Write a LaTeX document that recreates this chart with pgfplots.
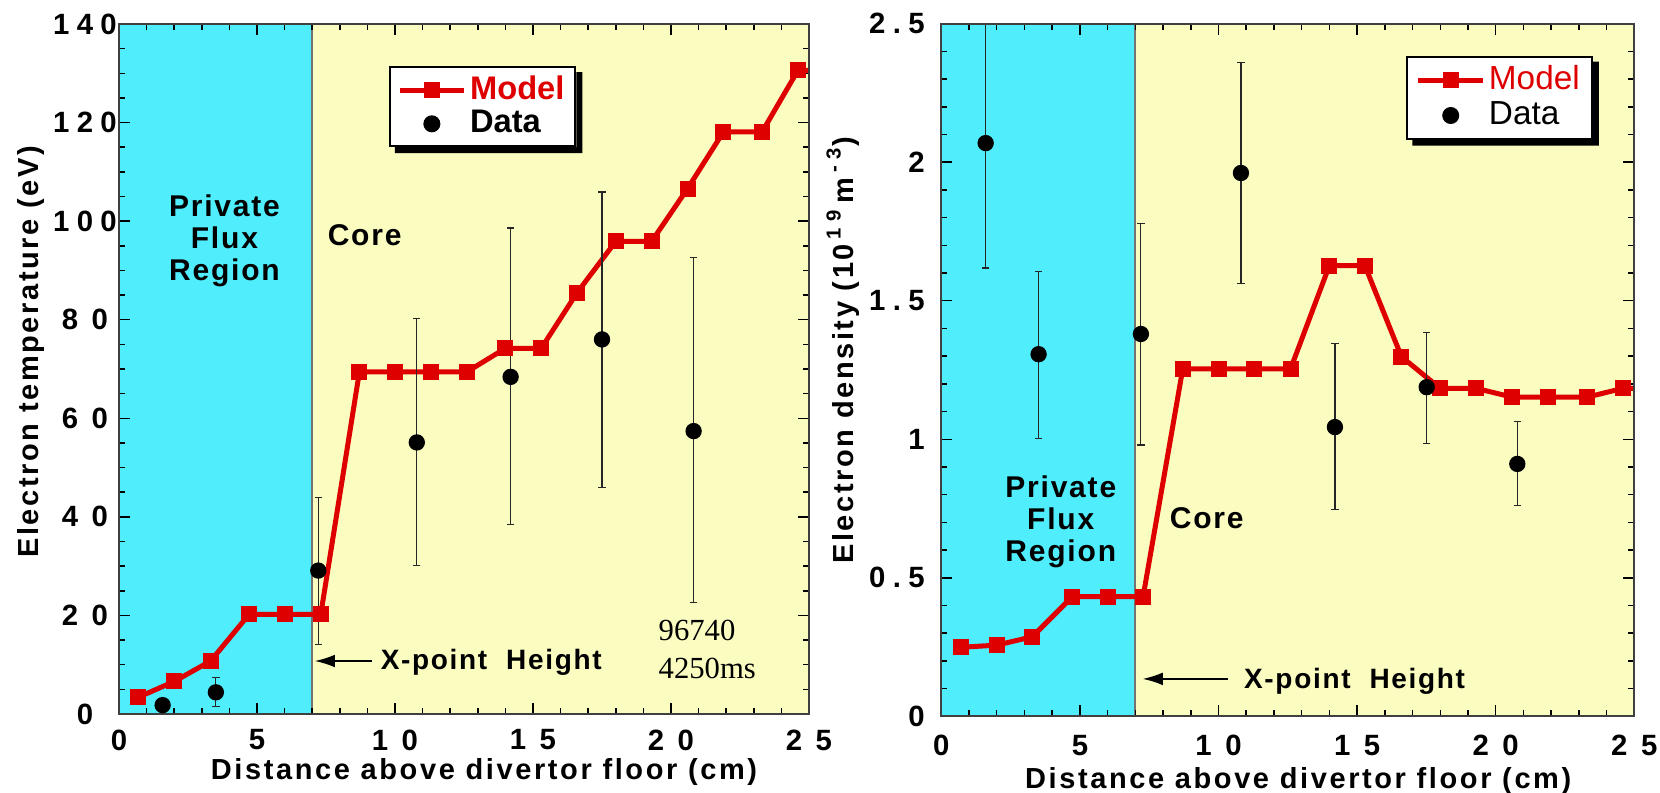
\documentclass[border=0pt]{standalone}
\usepackage{fontspec}
\setmainfont{Liberation Sans}
\newfontfamily\labelfont[LetterSpace=9]{Liberation Sans}
\newfontfamily\annfont[LetterSpace=6]{Liberation Sans}
\newfontfamily\timesfont{Liberation Serif}
\usepackage{pgfplots}
\usepackage{pgfplotstable}
\pgfplotsset{compat=1.18}
\usetikzlibrary{arrows.meta}

\definecolor{pfcyan}{RGB}{80,238,252}
\definecolor{coreyel}{RGB}{250,252,192}
\definecolor{modelred}{RGB}{222,0,0}

\newcommand\gw{\kern0.46em}
\newcommand\gn{\kern0.25em}

\pgfplotstableread{
x y
0.70 3.4
2.00 6.6
3.32 10.75
4.71 20.2
6.00 20.2
7.31 20.2
8.71 69.4
10.00 69.4
11.30 69.4
12.60 69.4
14.00 74.2
15.30 74.2
16.60 85.5
18.00 95.9
19.30 95.9
20.60 106.6
21.90 118.1
23.30 118.1
24.60 130.6
25.90 130.6
}\tempmodel

\pgfplotstableread{
x y ep em
1.58 1.8 0 0
3.51 4.4 3.0 2.9
7.22 29.1 14.9 15.0
10.79 55.1 25.1 24.9
14.19 68.4 30.2 29.9
17.50 76.0 29.9 30.1
20.82 57.4 35.2 34.7
}\tempdata

\pgfplotstableread{
x y
0.71 0.249
2.01 0.257
3.28 0.287
4.73 0.432
6.00 0.432
7.28 0.432
8.71 1.254
10.00 1.254
11.28 1.254
12.60 1.254
14.00 1.627
15.28 1.627
16.60 1.298
17.99 1.184
19.28 1.184
20.60 1.152
21.90 1.152
23.30 1.152
24.60 1.184
25.90 1.184
}\densmodel

\pgfplotstableread{
x y ep em
1.60 2.069 0.45 0.451
3.51 1.307 0.298 0.303
7.20 1.380 0.400 0.401
10.81 1.961 0.400 0.399
14.20 1.044 0.303 0.299
17.51 1.188 0.198 0.202
20.78 0.911 0.153 0.149
}\densdata

\pgfplotsset{
  myaxis/.style={
    scale only axis,
    anchor=south west,
    xmin=0, xmax=25,
    xtick={0,5,...,25},
    xticklabels={0,5,1\gw0,1\gw5,2\gw0,2\gw5},
    minor x tick num=4,
    tick align=inside,
    major tick length=3.3pt,
    minor tick length=1.8pt,
    tick style={black, line width=0.45pt},
    axis line style={draw=black!75, line width=0.5pt},
    /pgf/number format/assume math mode=true,
    tick label style={font=\bfseries\fontsize{8.8}{10}\selectfont},
    clip=true,
    axis on top,
    legend cell align=left,
    legend image code/.code={\draw[mark repeat=2,mark phase=2] plot coordinates {(0cm,0cm)(0.34cm,0cm)(0.68cm,0cm)};},
    label style={font=\labelfont\bfseries\fontsize{8.7}{10}\selectfont},
  },
  modelstyle/.style={modelred, line width=1.5pt, mark=square*, mark size=1.65pt, mark options={solid}},
  datastyle/.style={only marks, black, mark=*, mark size=2.25pt,
    error bars/.cd, y dir=both, y explicit,
    error bar style={line width=0.35pt, black!85},
    error mark options={rotate=90, mark size=1.1pt, line width=0.35pt, black!85}},
}

\newcommand\legshadow[1]{%
  \fill[black] ([xshift=1.8pt]#1.south west) -- ([xshift=1.8pt,yshift=-1.8pt]#1.south west)
    -- ([xshift=1.8pt,yshift=-1.8pt]#1.south east) -- ([xshift=1.8pt,yshift=-1.8pt]#1.north east)
    -- ([yshift=-1.8pt]#1.north east) -- (#1.south east) -- cycle;}

\begin{document}
\begin{tikzpicture}
\useasboundingbox (0,0) rectangle (498pt,237.9pt);

% ---------------- Left panel ----------------
\begin{axis}[myaxis,
  at={(35.7pt,23.7pt)}, width=207pt, height=207pt,
  ymin=0, ymax=140, ytick={0,20,...,140},
  yticklabels={0,2\gw0,4\gw0,6\gw0,8\gw0,1\gn0\gn0,1\gn2\gn0,1\gn4\gn0},
  minor y tick num=3,
  xticklabel style={anchor=center, yshift=-7.8pt},
  yticklabel style={anchor=center, xshift=-10.2pt},
  xlabel={Distance above divertor floor (cm)},
  xlabel style={at={(rel axis cs:0.529,-0.0836)}, anchor=center},
  ylabel={Electron temperature (eV)},
  ylabel style={at={(rel axis cs:-0.1275,0.525)}, anchor=center},
  legend style={name=legL, at={(rel axis cs:0.391,0.939)}, anchor=north west,
    draw=black, line width=0.6pt, fill=white,
    font=\bfseries\fontsize{9.8}{11}\selectfont,
    inner xsep=2.2pt, inner ysep=1.5pt, row sep=-0.5pt,
    nodes={inner xsep=1.05pt, inner ysep=1.1pt}},
]
\addplot[fill=pfcyan, draw=none, forget plot] coordinates {(0,0) (0,140) (7,140) (7,0)} \closedcycle;
\addplot[fill=coreyel, draw=none, forget plot] coordinates {(7,0) (7,140) (25,140) (25,0)} \closedcycle;
\addplot[black!55, line width=0.6pt, forget plot] coordinates {(7,0) (7,140)};
\addplot[modelstyle] table[x=x, y=y] {\tempmodel};
\addlegendentry{\textcolor{modelred}{Model}}
\addplot[datastyle] table[x=x, y=y, y error plus=ep, y error minus=em] {\tempdata};
\addlegendentry{Data}

\node[font=\annfont\bfseries\fontsize{9}{9.6}\selectfont, align=center] at (axis cs:3.82,96.1) {Private\\Flux\\Region};
\node[font=\annfont\bfseries\fontsize{9}{9.6}\selectfont, anchor=west, inner sep=0pt] at (axis cs:7.54,97.1) {Core};
\draw[black, line width=0.4pt, -{Latex[length=6pt,width=3.8pt]}] (axis cs:9.16,10.75) -- (axis cs:7.1,10.75);
\node[font=\annfont\bfseries\fontsize{8.4}{10}\selectfont, anchor=base west, inner sep=0pt] at (axis cs:9.46,9.07) {X-point\ \ Height};
\node[font=\timesfont\fontsize{9.2}{11.3}\selectfont, anchor=base west, inner sep=0pt, align=left] at (axis cs:19.53,7.24) {96740\\4250ms};
\end{axis}
\legshadow{legL}

% ---------------- Right panel ----------------
\begin{axis}[myaxis,
  at={(282.39pt,23.01pt)}, width=207.9pt, height=207.78pt,
  ymin=0, ymax=2.5, ytick={0,0.5,...,2.5},
  yticklabels={0,0\gn.\gn5,1,1\gn.\gn5,2,2\gn.\gn5},
  minor y tick num=4,
  xticklabel style={anchor=center, yshift=-8.7pt},
  yticklabel style={anchor=east, inner sep=0pt, xshift=-4.8pt},
  xlabel={Distance above divertor floor (cm)},
  xlabel style={at={(rel axis cs:0.515,-0.0935)}, anchor=center},
  ylabel={Electron density (10\,\textsuperscript{1\,\,9}\,m\,\textsuperscript{-\,\,3})},
  ylabel style={at={(rel axis cs:-0.1418,0.5286)}, anchor=center},
  legend style={name=legR, at={(rel axis cs:0.671,0.954)}, anchor=north west,
    draw=black, line width=0.6pt, fill=white,
    font=\fontsize{10}{11}\selectfont,
    inner xsep=2.6pt, inner ysep=1.5pt, row sep=-0.5pt,
    nodes={inner xsep=1.05pt, inner ysep=1.25pt}},
]
\addplot[fill=pfcyan, draw=none, forget plot] coordinates {(0,0) (0,2.5) (7,2.5) (7,0)} \closedcycle;
\addplot[fill=coreyel, draw=none, forget plot] coordinates {(7,0) (7,2.5) (25,2.5) (25,0)} \closedcycle;
\addplot[black!55, line width=0.6pt, forget plot] coordinates {(7,0) (7,2.5)};
\addplot[modelstyle] table[x=x, y=y] {\densmodel};
\addlegendentry{\textcolor{modelred}{Model}}
\addplot[datastyle] table[x=x, y=y, y error plus=ep, y error minus=em] {\densdata};
\addlegendentry{Data}

\node[font=\annfont\bfseries\fontsize{9}{9.6}\selectfont, align=center] at (axis cs:4.31,0.703) {Private\\Flux\\Region};
\node[font=\annfont\bfseries\fontsize{9}{9.6}\selectfont, anchor=west, inner sep=0pt] at (axis cs:8.22,0.715) {Core};
\draw[black, line width=0.4pt, -{Latex[length=6pt,width=3.8pt]}] (axis cs:10.34,0.135) -- (axis cs:7.27,0.135);
\node[font=\annfont\bfseries\fontsize{8.4}{10}\selectfont, anchor=base west, inner sep=0pt] at (axis cs:10.9,0.101) {X-point\ \ Height};
\end{axis}
\legshadow{legR}
\end{tikzpicture}
\end{document}
